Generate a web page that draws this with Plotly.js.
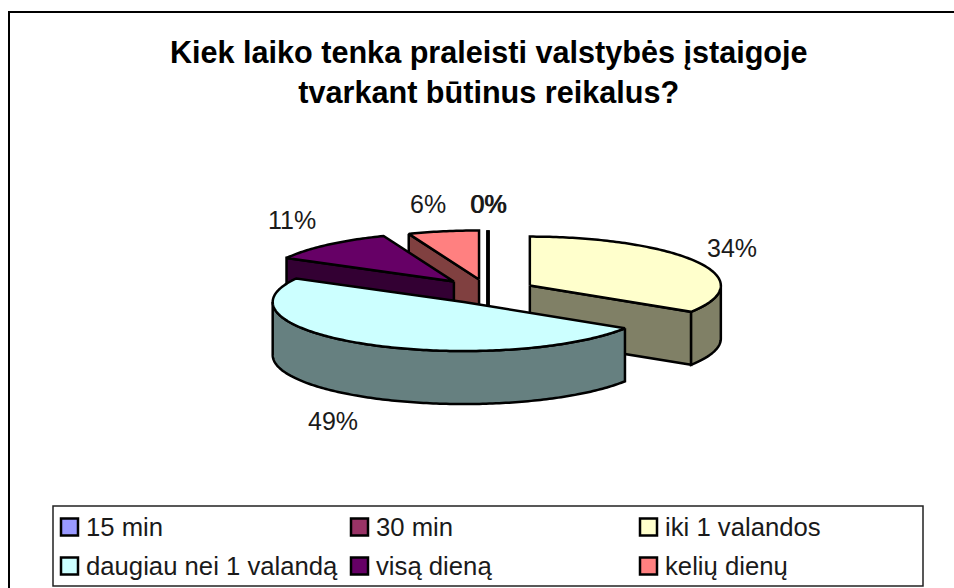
<!DOCTYPE html>
<html>
<head>
<meta charset="utf-8">
<script src="https://cdn.plot.ly/plotly-3.0.1.min.js"></script>
<style>html,body{margin:0;padding:0;background:#fff;overflow:hidden}</style>
</head>
<body>
<div id="chart" style="width:954px;height:588px"></div>
<script>
const titleText = 'Kiek laiko tenka praleisti valstybės įstaigoje<br>tvarkant būtinus reikalus?';
const categories = ['15 min', '30 min', 'iki 1 valandos', 'daugiau nei 1 valandą', 'visą dieną', 'kelių dienų'];
const percents = [0, 0, 34, 49, 11, 6];
const topColors = ['#9999FF', '#993366', '#FFFFCC', '#CCFFFF', '#660066', '#FF8080'];
const sideColors = ['#4D4D80', '#4D1A33', '#808066', '#668080', '#330033', '#804040'];

// Pie geometry in page-pixel axis units
const CX = 488, CY = 291.5, RX = 191, RY = 49, DEPTH = 53;
const pull = [0.25, 0.25, 0.25, 0.25, 0.27, 0.25];
// Label anchors by category
const labelX = [488, 488.6, 732, 333, 292, 428];
const labelY = [204, 204, 248, 421, 220, 204];
// Legend layout
const legendCols = [61, 351, 640];
const legendRows = [527, 566];

const rad = d => d * Math.PI / 180;
const traces = [];
const total = percents.reduce((a, b) => a + b, 0);
let cum = 0;
const slices = percents.map((v, i) => {
  const a = cum / total * 360; cum += v;
  const b = cum / total * 360, m = (a + b) / 2;
  return {i, a, b, m,
    cx: CX + pull[i] * RX * Math.sin(rad(m)),
    cy: CY - pull[i] * RY * Math.cos(rad(m))};
});
const pt = (s, t, dz) => [s.cx + RX * Math.sin(rad(t)), s.cy - RY * Math.cos(rad(t)) + (dz || 0)];
function poly(pts, fill, width) {
  traces.push({
    type: 'scatter', mode: 'lines', x: pts.map(p => p[0]), y: pts.map(p => p[1]),
    fill: fill ? 'toself' : 'none', fillcolor: fill || undefined,
    line: {color: '#000', width: width || 2.5, simplify: false},
    hoverinfo: 'skip', showlegend: false
  });
}
function arc(s, from, to, dz) {
  const pts = [], n = Math.max(2, Math.ceil(Math.abs(to - from)));
  for (let k = 0; k <= n; k++) pts.push(pt(s, from + (to - from) * k / n, dz));
  return pts;
}
// Painter's order: farthest slice first
slices.slice().sort((p, q) => Math.cos(rad(q.m)) - Math.cos(rad(p.m))).forEach(s => {
  const side = sideColors[s.i], top = topColors[s.i];
  const c = [s.cx, s.cy], cd = [s.cx, s.cy + DEPTH];
  if (s.b - s.a === 0) {
    poly([pt(s, s.a), c, cd], null, 3.5);
    return;
  }
  if (Math.sin(rad(s.a)) < -1e-6) poly([c, pt(s, s.a), pt(s, s.a, DEPTH), cd, c], side);
  if (Math.sin(rad(s.b)) > 1e-6) poly([c, pt(s, s.b), pt(s, s.b, DEPTH), cd, c], side);
  const r0 = Math.max(s.a, 90), r1 = Math.min(s.b, 270);
  if (r1 > r0) poly(arc(s, r0, r1).concat(arc(s, r1, r0, DEPTH)).concat([pt(s, r0)]), side);
  poly([c].concat(arc(s, s.a, s.b)).concat([c]), top);
});

const font = {family: '"Liberation Sans", Arial, sans-serif', color: '#000'};
const annotations = [];
percents.forEach((v, i) => annotations.push({
  x: labelX[i], y: labelY[i], xref: 'x', yref: 'y', text: v + '%', showarrow: false,
  xanchor: 'center', yanchor: 'middle', font: {...font, size: 25, color: '#1a1a1a'}
}));
const shapes = [
  {type: 'rect', xref: 'x', yref: 'y', x0: 9, y0: 12, x1: 1000, y1: 1000, line: {color: '#000', width: 2}},
  {type: 'rect', xref: 'x', yref: 'y', x0: 53, y0: 506, x1: 923, y1: 586, line: {color: '#222', width: 1.5}}
];
categories.forEach((name, i) => {
  const col = i % 3, row = Math.floor(i / 3);
  const x = legendCols[col], y = legendRows[row];
  shapes.push({type: 'rect', xref: 'x', yref: 'y', x0: x, x1: x + 17, y0: y - 8.5, y1: y + 8.5,
    fillcolor: topColors[i], line: {color: '#000', width: 2.5}});
  annotations.push({x: x + 23, y: y, xref: 'x', yref: 'y', text: name, showarrow: false,
    xanchor: 'left', yanchor: 'middle', font: {...font, size: 25.7, color: '#1a1a1a'}});
});

const layout = {
  width: 954, height: 588, margin: {l: 0, r: 0, t: 0, b: 0},
  paper_bgcolor: '#fff', plot_bgcolor: '#fff', showlegend: false,
  title: {text: titleText, x: 0.5123, xanchor: 'center', y: 0.893, yanchor: 'middle',
          font: {...font, size: 30.6, weight: 700}},
  xaxis: {range: [0, 954], visible: false, fixedrange: true},
  yaxis: {range: [588, 0], visible: false, fixedrange: true},
  shapes, annotations
};
Plotly.newPlot('chart', traces, layout, {displayModeBar: false, staticPlot: true});
</script>
</body>
</html>
